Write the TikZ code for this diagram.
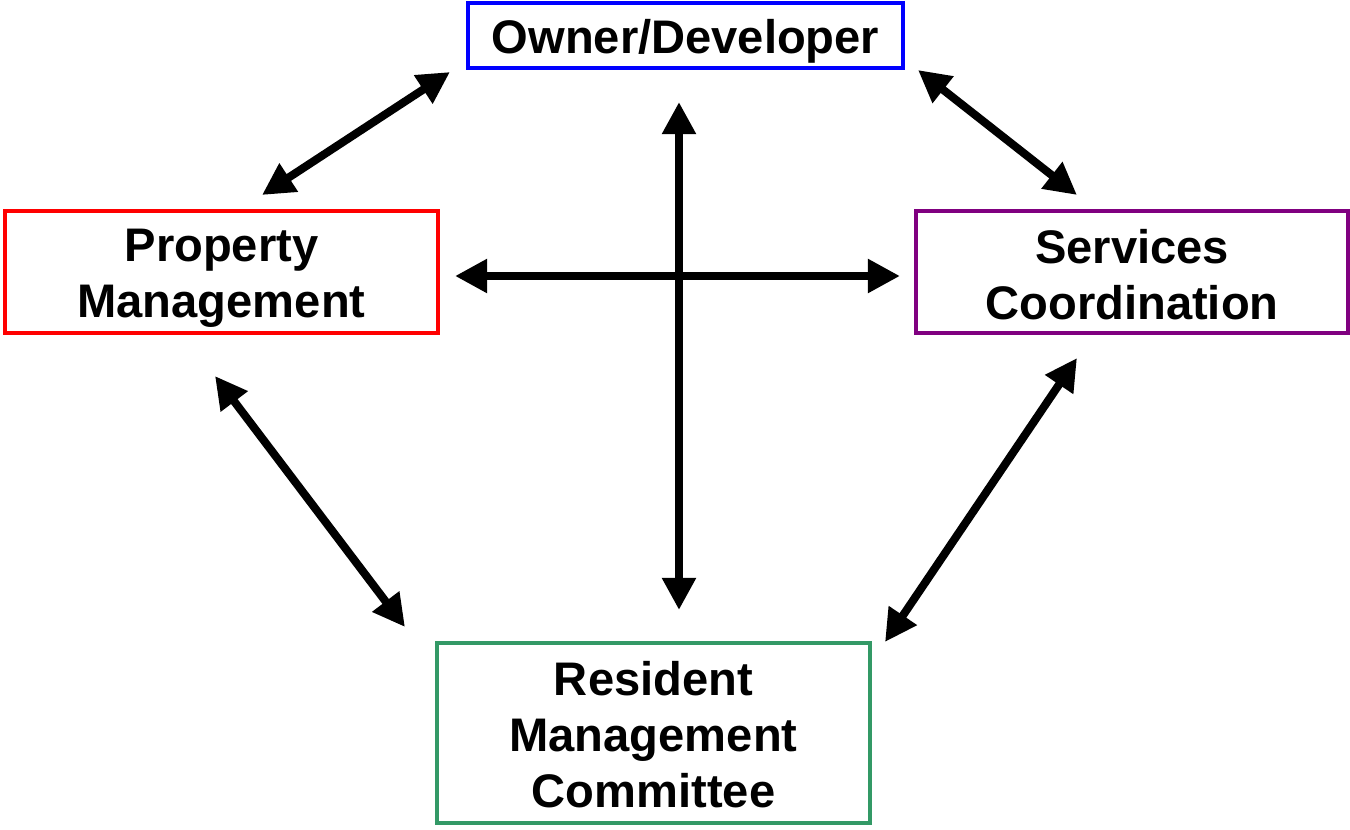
\documentclass[tikz,border=0pt]{standalone}
\usepackage{fontspec}
\setmainfont{Liberation Sans}
\usetikzlibrary{arrows.meta}
\definecolor{ownblue}{RGB}{0,0,255}
\definecolor{propred}{RGB}{255,0,0}
\definecolor{servpurple}{RGB}{128,0,128}
\definecolor{resgreen}{RGB}{51,153,102}
\begin{document}
\begin{tikzpicture}[x=0.01cm,y=-0.01cm,
  box/.style={draw, line width=1.0pt, rectangle, inner sep=0pt},
  lbl/.style={inner sep=0pt, align=center,
    font=\fontsize{13.4}{16}\selectfont\bfseries},
  link/.style={line width=2.3pt, {Triangle[length=0.32cm,width=0.32cm]}-{Triangle[length=0.32cm,width=0.32cm]}}]
\useasboundingbox (0,0) rectangle (1350,830);
% the four parties: frames
\node[box, draw=ownblue, minimum width=4.35cm, minimum height=0.65cm] (owner) at (685.5,35.5) {};
\node[box, draw=propred, minimum width=4.33cm, minimum height=1.22cm] (prop) at (221.5,272) {};
\node[box, draw=servpurple, minimum width=4.32cm, minimum height=1.22cm] (serv) at (1132,272) {};
\node[box, draw=resgreen, minimum width=4.33cm, minimum height=1.80cm] (res) at (653.5,733) {};
% the four parties: names
\node[lbl] (ownerT) at ([yshift=-0.06cm]owner.center) {Owner/Developer};
\node[lbl] (propT) at ([yshift=-0.06cm]prop.center) {Property\\Management};
\node[lbl] (servT) at ([yshift=-0.025cm]serv.center) {Services\\Coordination};
\node[lbl] (resT) at ([yshift=-0.015cm]res.center) {Resident\\Management\\Committee};
% arrow end points, kept clear of the boxes
\coordinate (oL) at (450,72);
\coordinate (pT) at (262,195);
\coordinate (oR) at (918,70);
\coordinate (sT) at (1077,195);
\coordinate (oB) at (679,102);
\coordinate (rT) at (679,610);
\coordinate (pR) at (455,276);
\coordinate (sL) at (900,276);
\coordinate (pB) at (215,376);
\coordinate (rL) at (405,627);
\coordinate (sB) at (1077,358);
\coordinate (rR) at (885,642);
% two-way links
\draw[link] (oL) -- (pT);
\draw[link] (oR) -- (sT);
\draw[link] (oB) -- (rT);
\draw[link] (pR) -- (sL);
\draw[link] (pB) -- (rL);
\draw[link] (sB) -- (rR);
\end{tikzpicture}
\end{document}
